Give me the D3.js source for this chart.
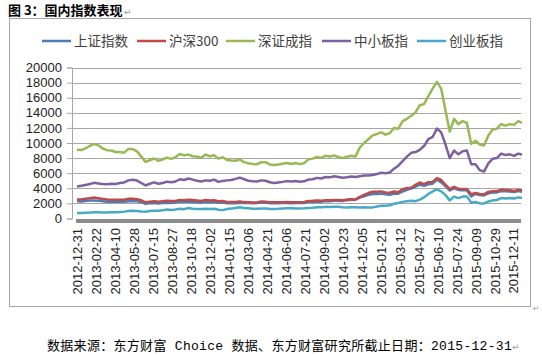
<!DOCTYPE html>
<html><head><meta charset="utf-8">
<script src="https://cdn.jsdelivr.net/npm/d3@7"></script>
<style>
body{margin:0;background:#fff;}
svg{display:block;}
</style></head>
<body>
<svg id="chart" width="542" height="355"></svg>
<script>
// ---- Data (one value every 7 trading days, 2012-12-31 .. 2015-12-31) ----
const tradingDayStep = 7;
const lastTradingDay = 727;
const seriesNames = ["上证指数", "沪深300", "深证成指", "中小板指", "创业板指"];
const seriesColors = ["#4A7EBB", "#BE4B48", "#98B954", "#7D60A0", "#46AAC5"];
const tickLabels = ["2012-12-31","2013-02-22","2013-04-10","2013-05-28","2013-07-15","2013-08-27",
  "2013-10-18","2013-12-02","2014-01-15","2014-03-06","2014-04-21","2014-06-06","2014-07-21",
  "2014-09-02","2014-10-23","2014-12-05","2015-01-21","2015-03-12","2015-04-27","2015-06-10",
  "2015-07-24","2015-09-09","2015-10-29","2015-12-11"];
const tickIndexStep = 31; // trading days between labels
const yTicks = [0,2000,4000,6000,8000,10000,12000,14000,16000,18000,20000];

const shIndex = [2269,2243,2315,2385,2383,2365,2300,2230,2236,2225,2242,2205,2299,2305,2270,2160,1950,2007,2065,1990,
  2050,2100,2057,2123,2255,2207,2230,2183,2150,2088,2200,2150,2215,2085,2116,2013,2008,2033,2095,2047,
  2057,2025,2046,2090,2105,2020,2011,2009,2039,2052,2024,2048,2038,2059,2178,2194,2240,2207,2326,2295,
  2347,2358,2302,2430,2494,2487,2763,2940,3128,3235,3229,3323,3210,3142,3310,3286,3582,3786,3957,4217,
  4476,4333,4529,4611,5166,4785,4277,3709,3992,3789,3744,3748,2927,3243,3097,3053,3338,3429,3459,3632,
  3616,3585,3520,3636,3539];
const hs300 = [2523,2524,2613,2688,2768,2674,2590,2510,2495,2481,2490,2472,2613,2625,2547,2412,2140,2209,2274,2220,
  2281,2347,2314,2330,2466,2427,2488,2440,2384,2310,2466,2393,2420,2280,2330,2196,2170,2180,2250,2170,
  2165,2116,2135,2238,2230,2154,2137,2140,2156,2170,2140,2165,2163,2191,2314,2342,2389,2341,2433,2431,
  2457,2453,2403,2504,2561,2529,2863,3117,3371,3533,3550,3592,3434,3412,3572,3467,3894,4040,4073,4456,
  4762,4553,4813,4844,5354,5099,4473,3897,4201,3953,3917,3900,3205,3370,3249,3202,3518,3600,3630,3800,
  3760,3730,3650,3790,3731];
const szComponent = [9116,9060,9290,9640,9850,9690,9270,9050,9000,8810,8820,8720,9220,9200,8900,8200,7500,7720,7950,7640,
  7820,8070,7890,8140,8540,8360,8470,8250,8200,8040,8460,8250,8380,7930,8122,7760,7670,7640,7800,7470,
  7320,7210,7190,7450,7460,7150,7100,7150,7240,7340,7220,7340,7200,7330,7830,7930,8160,8030,8300,8200,
  8340,8150,8000,8180,8300,8200,9400,10000,10500,11015,11200,11400,11100,11300,12000,11900,12900,13200,13600,14050,
  15000,15150,16200,17200,18100,17200,14300,11500,13200,12500,12900,12650,9900,10300,9800,9660,11000,11800,11900,12500,
  12300,12500,12400,12900,12665];
const smeBoard = [4236,4330,4450,4560,4720,4650,4560,4530,4600,4560,4700,4780,5050,5120,5020,4700,4380,4600,4780,4600,
  4700,4880,4800,4900,5200,5100,5300,5150,5000,4900,5050,5000,5150,4850,4980,5050,5100,5250,5420,5200,
  5000,4930,4900,5050,5000,4800,4700,4780,4850,4950,4900,4980,4870,4920,5150,5200,5380,5300,5500,5450,
  5600,5500,5400,5450,5550,5500,5600,5700,5700,5760,5900,6050,6000,6100,6600,7000,7600,8200,8700,8800,
  9100,9600,10500,10800,11900,11400,9800,8000,9000,8500,8900,9000,7200,7200,6400,6200,7300,7900,8000,8600,
  8400,8500,8300,8600,8450];
const chiNext = [714,730,770,780,820,820,810,800,820,830,860,910,980,1030,1000,930,880,980,1040,1030,
  1100,1180,1130,1200,1300,1240,1400,1300,1250,1260,1300,1250,1300,1150,1109,1250,1310,1400,1480,1400,
  1350,1280,1300,1330,1320,1250,1250,1280,1330,1370,1380,1340,1330,1350,1400,1420,1500,1480,1540,1520,
  1560,1570,1480,1470,1500,1480,1450,1480,1450,1471,1600,1680,1700,1750,1950,2050,2200,2300,2350,2300,
  2500,2800,3250,3600,3850,3600,3100,2400,2900,2700,2900,2900,2100,2200,2000,1990,2250,2400,2450,2700,
  2650,2700,2650,2800,2714];

const seriesValues = [shIndex, hs300, szComponent, smeBoard, chiNext];

// ---- Layout ----
const svg = d3.select("#chart");
const x = d3.scaleLinear().domain([0, lastTradingDay]).range([77, 522]);
const y = d3.scaleLinear().domain([0, 20000]).range([218.5, 67.5]);

// title
svg.append("text").attr("x", 8).attr("y", 15)
  .style("font-family", "'Noto Sans CJK SC'").style("font-size", "13px").style("font-weight", "bold")
  .attr("fill", "#000").text("图 3：国内指数表现");
svg.append("text").attr("x", 124).attr("y", 15)
  .style("font-family", "'DejaVu Sans'").style("font-size", "9px").attr("fill", "#999").text("↵");

// frame
svg.append("rect").attr("x", 9.5).attr("y", 18.5).attr("width", 521).attr("height", 288)
  .attr("fill", "#fff").attr("stroke", "#a6a6a6").attr("stroke-width", 1);
svg.append("text").attr("x", 533).attr("y", 311)
  .style("font-family", "'DejaVu Sans'").style("font-size", "8px").attr("fill", "#999").text("↵");

// y gridlines + axis
const yAxis = d3.axisLeft(y).tickValues(yTicks).tickSize(5).tickPadding(5).tickFormat(d3.format("d"));
const gy = svg.append("g").attr("transform", "translate(72,0)").call(yAxis);
gy.select(".domain").attr("stroke", "#a6a6a6");
gy.selectAll(".tick line").attr("stroke", "#a6a6a6");
gy.selectAll(".tick text").style("font-family", "'Liberation Sans'").style("font-size", "13px").attr("fill", "#222");

svg.append("g").selectAll("line").data(yTicks.filter(d => d > 0)).join("line")
  .attr("x1", 72).attr("x2", 521).attr("y1", d => Math.round(y(d)) + 0.5).attr("y2", d => Math.round(y(d)) + 0.5)
  .attr("stroke", "#a6a6a6").attr("stroke-width", 1);

// x axis
const tickIdx = tickLabels.map((_, i) => i * tickIndexStep);
const xAxis = d3.axisBottom(x).tickValues(tickIdx).tickSize(0).tickPadding(0)
  .tickFormat((d, i) => tickLabels[i]);
const gx = svg.append("g").attr("transform", "translate(0,221)").call(xAxis);
gx.select(".domain").remove();
gx.selectAll(".tick text")
  .attr("transform", "rotate(-90)").attr("text-anchor", "end")
  .attr("x", -7).attr("y", 0).attr("dy", "0.35em")
  .style("font-family", "'Liberation Sans'").style("font-size", "13px").attr("fill", "#222");
svg.append("line").attr("x1", 76).attr("x2", 521).attr("y1", 221).attr("y2", 221)
  .attr("stroke", "#8c8c8c").attr("stroke-width", 4);

// lines
const line = d3.line()
  .x((d, i) => x(Math.min(i * tradingDayStep, lastTradingDay)))
  .y(d => y(d));
const drawOrder = [4, 3, 2, 0, 1];
svg.append("g").selectAll("path").data(drawOrder).join("path")
  .attr("d", s => line(seriesValues[s]))
  .attr("fill", "none").attr("stroke", s => seriesColors[s])
  .attr("stroke-width", 2.5).attr("stroke-linejoin", "round");

// legend
const legendX = [42, 137, 226, 322, 417];
const lg = svg.append("g").selectAll("g").data(seriesNames).join("g")
  .attr("transform", (d, i) => `translate(${legendX[i]},41)`);
lg.append("line").attr("x1", 0).attr("x2", 29).attr("y1", 0).attr("y2", 0)
  .attr("stroke", (d, i) => seriesColors[i]).attr("stroke-width", 2.5);
lg.append("text").attr("x", 32).attr("y", 0).attr("dy", "0.35em")
  .style("font-family", "'Noto Sans CJK SC'").style("font-size", "13.5px").attr("fill", "#404040")
  .text(d => d);

// footnote
svg.append("text").attr("x", 47).attr("y", 350)
  .style("font-family", "'Liberation Mono','Noto Sans CJK SC'").style("font-size", "13px")
  .style("letter-spacing", "0.3px").attr("fill", "#000")
  .text("数据来源：东方财富 Choice 数据、东方财富研究所截止日期：2015-12-31")
  .append("tspan").style("font-family", "'DejaVu Sans'").style("font-size", "9px").style("letter-spacing", "0px")
  .attr("fill", "#999").text("↵");
</script>
</body></html>
